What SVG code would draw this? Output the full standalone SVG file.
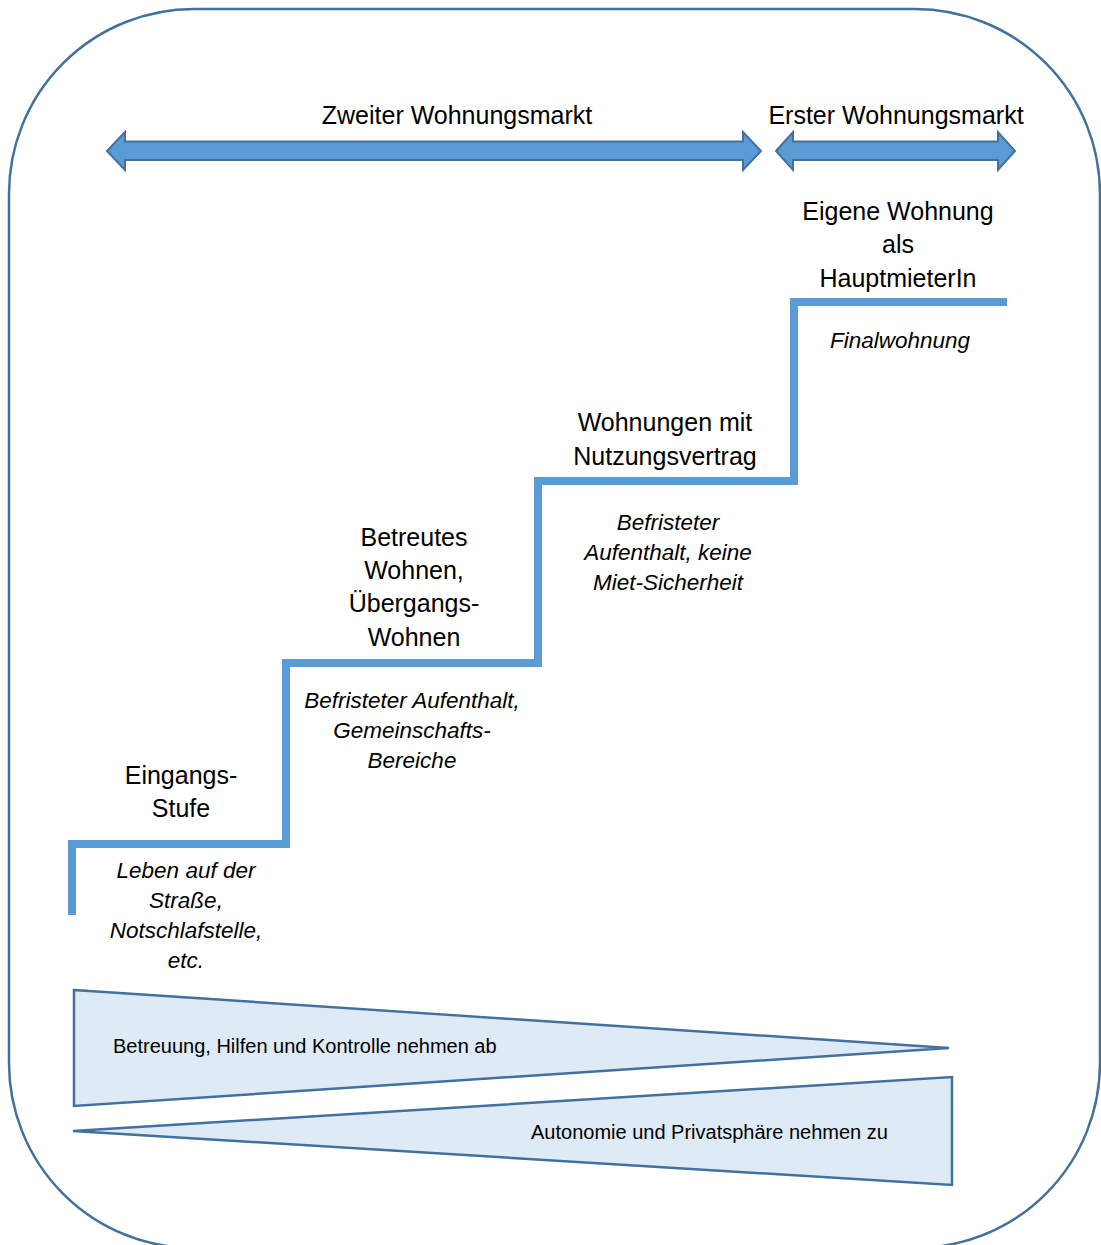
<svg xmlns="http://www.w3.org/2000/svg" width="1101" height="1245" viewBox="0 0 1101 1245">
<defs>
<style>
.frame{fill:none;stroke:#41719c;stroke-width:2.5}
.arrow{fill:#5b9bd5;stroke:#41719c;stroke-width:2;stroke-linejoin:miter}
.stair{fill:none;stroke:#5b9bd5;stroke-width:8;stroke-linejoin:miter;stroke-linecap:butt}
.wedge{fill:#deebf7;stroke:#41719c;stroke-width:2.5;stroke-linejoin:miter}
.t{font-family:"Liberation Sans",Arial,sans-serif;font-size:25px;fill:#000;text-anchor:middle}
.i{font-family:"Liberation Sans",Arial,sans-serif;font-size:22.5px;font-style:italic;fill:#000;text-anchor:middle}
.s{font-family:"Liberation Sans",Arial,sans-serif;font-size:20px;fill:#000}
</style>
</defs>
<rect class="frame" x="9" y="9" width="1091" height="1239" rx="185" ry="185"/>
<g id="connectors">
<polygon id="arrow-zweiter" class="arrow" points="107,151 125,132 125,141.5 743,141.5 743,132 761,151 743,170 743,160 125,160 125,170"/>
<polygon id="arrow-erster" class="arrow" points="776,151 793,132 793,141.5 998,141.5 998,132 1015,151 998,170 998,160 793,160 793,170"/>
<polyline id="stairs" class="stair" points="72,915 72,844 286,844 286,663 538,663 538,481 794,481 794,302 1007,302"/>
</g>
<g id="label-zweiter"><text class="t" x="457" y="124">Zweiter Wohnungsmarkt</text></g>
<g id="label-erster"><text class="t" x="896" y="124">Erster Wohnungsmarkt</text></g>
<g id="step-1">
<text class="t" x="181" y="784">Eingangs-</text>
<text class="t" x="181" y="817">Stufe</text>
<text class="i" x="186" y="878">Leben auf der</text>
<text class="i" x="186" y="908">Straße,</text>
<text class="i" x="186" y="938">Notschlafstelle,</text>
<text class="i" x="186" y="968">etc.</text>
</g>
<g id="step-2">
<text class="t" x="414" y="546">Betreutes</text>
<text class="t" x="414" y="579">Wohnen,</text>
<text class="t" x="414" y="612">Übergangs-</text>
<text class="t" x="414" y="646">Wohnen</text>
<text class="i" x="412" y="708">Befristeter Aufenthalt,</text>
<text class="i" x="412" y="738">Gemeinschafts-</text>
<text class="i" x="412" y="768">Bereiche</text>
</g>
<g id="step-3">
<text class="t" x="665" y="431">Wohnungen mit</text>
<text class="t" x="665" y="465">Nutzungsvertrag</text>
<text class="i" x="668" y="530">Befristeter</text>
<text class="i" x="668" y="560">Aufenthalt, keine</text>
<text class="i" x="668" y="590">Miet-Sicherheit</text>
</g>
<g id="step-4">
<text class="t" x="898" y="220">Eigene Wohnung</text>
<text class="t" x="898" y="253">als</text>
<text class="t" x="898" y="287">HauptmieterIn</text>
<text class="i" x="900" y="348">Finalwohnung</text>
</g>
<g id="wedge-betreuung">
<polygon class="wedge" points="74,990 949,1048 74,1106"/>
<text class="s" x="113" y="1053">Betreuung, Hilfen und Kontrolle nehmen ab</text>
</g>
<g id="wedge-autonomie">
<polygon class="wedge" points="73,1131 952,1077 952,1185"/>
<text class="s" x="531" y="1139">Autonomie und Privatsphäre nehmen zu</text>
</g>
</svg>
